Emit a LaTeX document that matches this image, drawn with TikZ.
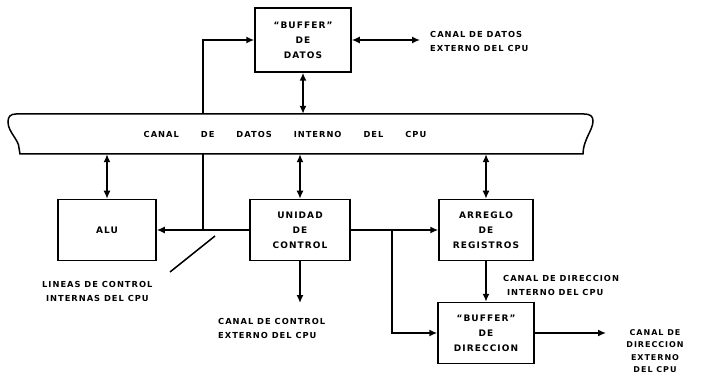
\documentclass[tikz,border=0pt]{standalone}
\usepackage{fontspec}
\setmainfont{DejaVu Sans}
\newfontfamily\hand[LetterSpace=12]{DejaVu Sans}
\usetikzlibrary{arrows.meta}
\tikzset{
  unit/.style={draw, line width=1.5pt, minimum width=96pt, minimum height=61pt, inner sep=0pt, align=center, font=\hand\bfseries\fontsize{9}{15}\selectfont},
  link/.style={line width=1.5pt},
  tip/.style={-{Latex[length=8pt,width=7pt]}},
  twotip/.style={{Latex[length=8pt,width=7pt]}-{Latex[length=8pt,width=7pt]}},
  lbl/.style={inner sep=0pt, align=left, font=\hand\bfseries\fontsize{8.3}{14}\selectfont},
}
\begin{document}
\begin{tikzpicture}[x=1pt,y=-1pt]
\useasboundingbox (0,0) rectangle (701,379);
% boxes
\node[unit, minimum width=96pt, minimum height=64pt] (bufd) at (303,40) {“BUFFER”\\DE\\DATOS};
\node[unit, minimum width=98pt] (alu) at (107,230) {ALU};
\node[unit, minimum width=100pt] (uc) at (300,230) {UNIDAD\\DE\\CONTROL};
\node[unit, minimum width=94pt] (reg) at (486,230) {ARREGLO\\DE\\REGISTROS};
\node[unit, minimum width=96pt] (bufdir) at (486,333) {“BUFFER”\\DE\\DIRECCION};
% bus (invisible frame for anchors)
\node[minimum width=574pt, minimum height=40pt, inner sep=0pt] (busframe) at (301,134) {};
% junctions and free ends
\coordinate (j1) at (203,230);
\coordinate (j2) at (392,230);
\coordinate (dext) at (420,40);
\coordinate (cext) at (300,303);
\coordinate (aext) at (606,333);
\coordinate (l1) at (170,272);
\coordinate (l2) at (215,236);
% control lines
\draw[link,tip] (uc.west) -- (alu.east);
\draw[link,tip] (j1) |- (bufd.west);
\draw[link,tip] (uc.east) -- (reg.west);
\draw[link,tip] (j2) |- (bufdir.west);
\draw[link] (l1) -- (l2);
% bus shape
\draw[link, fill=white] (20,154) -- (583,154)
  .. controls (583,140) and (593,130) .. (593,121)
  .. controls (593,116) and (590,114) .. (584,114)
  -- (16,114)
  .. controls (10,114) and (8,117) .. (8,122)
  .. controls (8,132) and (19,140) .. (19,148) -- cycle;
\node[lbl] (bus) at (285,134) {CANAL\hspace{22pt}DE\hspace{22pt}DATOS\hspace{22pt}INTERNO\hspace{22pt}DEL\hspace{22pt}CPU};
% bus connections
\draw[link,twotip] (bufd.south) -- (bufd.south |- busframe.north);
\draw[link,twotip] (alu.north) -- (alu.north |- busframe.south);
\draw[link,twotip] (uc.north) -- (uc.north |- busframe.south);
\draw[link,twotip] (reg.north) -- (reg.north |- busframe.south);
% other connections
\draw[link,twotip] (bufd.east) -- (dext);
\draw[link,tip] (reg.south) -- (bufdir.north);
\draw[link,tip] (uc.south) -- (cext);
\draw[link,tip] (bufdir.east) -- (aext);
% labels
\node[lbl, anchor=west] (t1) at (430,41) {CANAL DE DATOS\\EXTERNO DEL CPU};
\node[lbl, anchor=west] (t2) at (503,285) {CANAL DE DIRECCION\\\ INTERNO DEL CPU};
\node[lbl, anchor=west] (t3) at (218,328) {CANAL DE CONTROL\\EXTERNO DEL CPU};
\node[lbl, anchor=west] (t4) at (42,291) {LINEAS DE CONTROL\\\ INTERNAS DEL CPU};
\node[lbl, align=center, font=\hand\bfseries\fontsize{8}{12.3}\selectfont] (t5) at (655,351) {CANAL DE\\DIRECCION\\EXTERNO\\DEL CPU};
\end{tikzpicture}
\end{document}
